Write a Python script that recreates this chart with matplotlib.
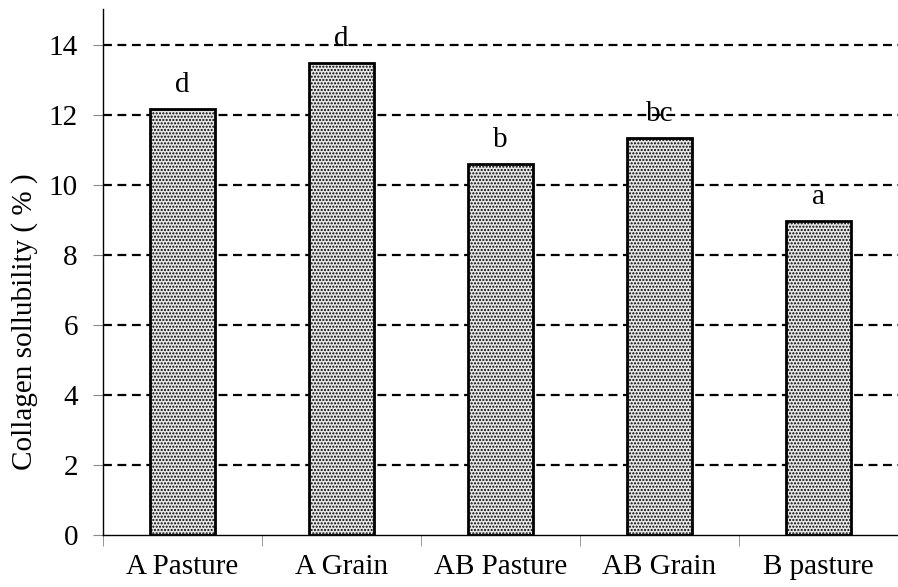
import matplotlib
matplotlib.use("Agg")
import matplotlib.pyplot as plt
import numpy as np

categories = ["A Pasture", "A Grain", "AB Pasture", "AB Grain", "B pasture"]
values = [12.17, 13.48, 10.59, 11.33, 8.97]
letters = ["d", "d", "b", "bc", "a"]
yticks = [0, 2, 4, 6, 8, 10, 12, 14]

plt.rcParams['font.family'] = ['Liberation Serif', 'DejaVu Serif']
plt.rcParams['hatch.color'] = '#4a4a4a'
plt.rcParams['hatch.linewidth'] = 1.0

fig = plt.figure(figsize=(8.98, 5.87), dpi=100)
ax = fig.add_axes([103/898, 52/587, 795/898, 526/587])

x = np.arange(len(categories))
for yv in yticks[1:]:
    ax.axhline(yv, color='black', lw=1.6, ls=(0, (4, 2.5)), zorder=1)

ax.bar(x, values, width=0.41, facecolor='#e6e6e6', edgecolor='black',
       linewidth=2, hatch='.....', zorder=2)
for xi, v, t in zip(x, values, letters):
    ax.text(xi, v + 0.5, t, ha='center', va='baseline', fontsize=21, zorder=3)

ax.set_xlim(-0.5, -0.5 + 795/161)
ax.set_ylim(0, 526/35)
ax.set_yticks(yticks)
ax.set_yticklabels([str(v) for v in yticks], fontsize=21)
ax.set_xticks(x)
ax.set_xticklabels(categories, fontsize=21)
ax.set_xticks(np.arange(-0.5, 5, 1), minor=True)
ax.tick_params(axis='x', which='major', length=0, pad=14)
ax.tick_params(axis='x', which='minor', length=8, color='#888888', direction='out')
ax.tick_params(axis='y', length=7, color='#888888', direction='out', pad=11)
ax.set_ylabel("Collagen sollubility ( % )", fontsize=21)
ax.yaxis.set_label_coords((38 - 103) / 795, (535 - 322) / 526)

for s in ['top', 'right']:
    ax.spines[s].set_visible(False)
ax.spines['left'].set_linewidth(1.0)
ax.spines['bottom'].set_linewidth(1.0)

fig.savefig("out.png", dpi=100)
